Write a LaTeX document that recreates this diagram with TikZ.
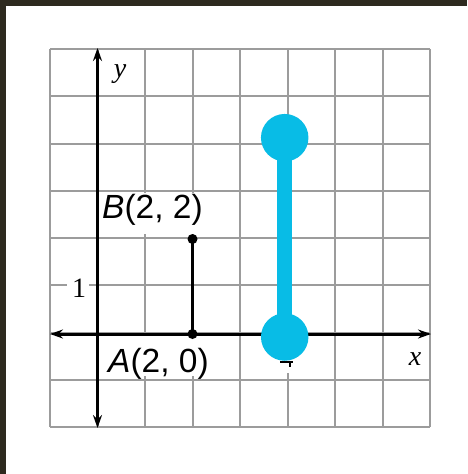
\documentclass[tikz,border=0pt]{standalone}
\usepackage{fontspec}
\setmainfont{Liberation Serif}
\setsansfont{Liberation Sans}
\usetikzlibrary{arrows.meta}
\definecolor{frame}{HTML}{2E2A1F}
\definecolor{gridgray}{HTML}{9C9C9C}
\definecolor{segblue}{HTML}{08BCE6}
\tikzset{
  gridline/.style={draw=gridgray, line width=2pt},
  axis/.style={draw=black, line width=3pt, {Stealth[length=13pt,width=9pt]}-{Stealth[length=13pt,width=9pt]}},
  blank/.style={fill=white, draw=none},
  ptlabel/.style={font=\sffamily\fontsize{33.5}{33.5}\selectfont, inner sep=0pt, anchor=base west},
  axlabel/.style={font=\rmfamily\itshape\fontsize{28}{28}\selectfont, inner sep=0pt, anchor=base},
  numlabel/.style={font=\rmfamily\fontsize{28}{28}\selectfont, inner sep=0pt, anchor=base},
  blackdot/.style={circle, fill=black, inner sep=0pt, minimum size=10pt},
  bluedot/.style={circle, fill=segblue, inner sep=0pt, minimum size=47.5pt},
  blackseg/.style={draw=black, line width=3pt},
  blueseg/.style={draw=segblue, line width=15pt}
}
\begin{document}
\begin{tikzpicture}[x=1pt, y=-1pt]
\useasboundingbox (0,0) rectangle (467,474);
\fill[white] (0,0) rectangle (467,474);
% frame bands
\fill[frame] (0,0) rectangle (467,6);
\fill[frame] (0,0) rectangle (6,474);
% grid
\foreach \i in {0,...,8} {
  \draw[gridline] (50+47.5*\i,49) -- (50+47.5*\i,427);
  \draw[gridline] (50,49+47.25*\i) -- (430,49+47.25*\i);
}
% white label backgrounds
\fill[blank] (100,193) rectangle (212,234);
\fill[blank] (100,336) rectangle (222,376);
\fill[blank] (67,276) rectangle (89,298);
\fill[blank] (275,336) rectangle (300,373);
% axes
\coordinate (xl) at (50,334);
\coordinate (xr) at (431,334);
\coordinate (yt) at (97.5,48);
\coordinate (yb) at (97.5,428);
\draw[axis] (xl) -- (xr);
\draw[axis] (yb) -- (yt);
% small tick remnant
\coordinate (t1) at (280,362);
\coordinate (t2) at (293,362);
\coordinate (t3) at (289.5,362);
\coordinate (t4) at (289.5,367);
\draw[black, line width=2pt] (t1) -- (t2);
\draw[black, line width=2pt] (t3) -- (t4);
% labels
\node[axlabel] (ylab) at (120,77) {y};
\node[axlabel] (xlab) at (415,365) {x};
\node[numlabel] (one) at (79,297) {1};
\node[ptlabel] (Blab) at (102,218.5) {{\itshape B}(2, 2)};
\node[ptlabel] (Alab) at (108,372.5) {{\itshape A}(2, 0)};
% black segment AB
\node[blackdot] (A) at (192.5,334) {};
\node[blackdot] (B) at (192.5,239) {};
\draw[blackseg] (A.center) -- (B.center);
% blue segment
\coordinate (P) at (284.7,337);
\coordinate (Q) at (284.7,137.7);
\draw[blueseg] (P) -- (Q);
\node[bluedot] (Pd) at (P) {};
\node[bluedot] (Qd) at (Q) {};
\end{tikzpicture}
\end{document}
